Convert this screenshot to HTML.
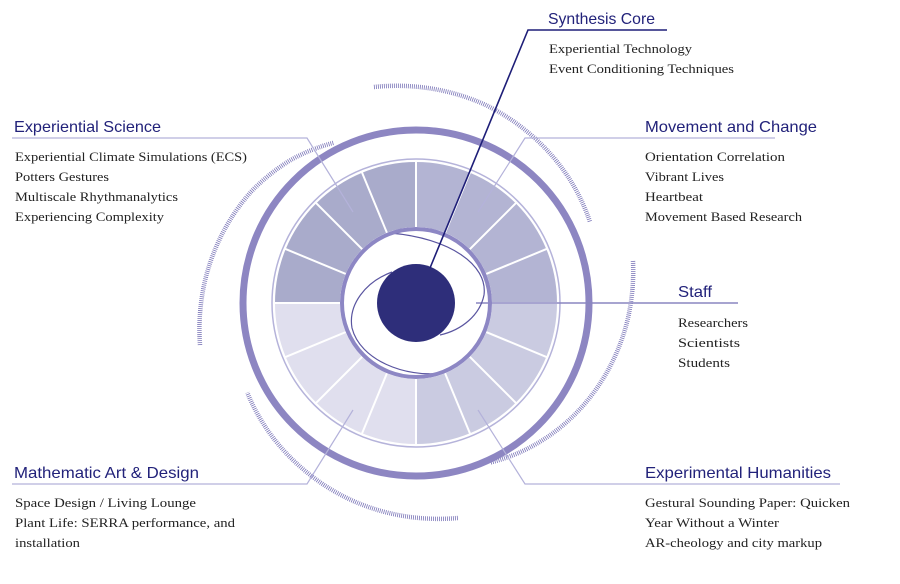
<!DOCTYPE html>
<html><head><meta charset="utf-8"><style>
html,body{margin:0;padding:0;background:#fff;}
svg{display:block;}
.h{font-family:"Liberation Sans",sans-serif;font-size:16px;fill:#22227a;}
.b{font-family:"Liberation Serif",serif;font-size:13px;fill:#222;}
</style></head><body>
<svg width="900" height="584" viewBox="0 0 900 584" xmlns="http://www.w3.org/2000/svg">
<!-- hatched spirals -->
<g fill="none" stroke="#7b76b8" stroke-width="4.5" stroke-dasharray="0.8 1.2">
<path d="M374,87 A217 217 0 0 1 431,88.5 A212 212 0 0 1 484.4,104.4 A207 207 0 0 1 530,134 A201 201 0 0 1 565.5,173 A195 195 0 0 1 590,222"/>
<path d="M633,261 A216 216 0 0 1 627.2,321.5 A207 207 0 0 1 606.8,372.4 A198 198 0 0 1 574.9,414.4 A189 189 0 0 1 535,444.7 A180 180 0 0 1 490.4,462.5"/>
<path d="M457.8,518 A216 216 0 0 1 401.1,515.6 A210 210 0 0 1 348.5,498.8 A204 204 0 0 1 303.6,469.6 A198 198 0 0 1 270.4,434.1 A193 193 0 0 1 247.3,392.6"/>
<path d="M200,345 A216 216 0 0 1 203.4,288.1 A209 209 0 0 1 221.2,235.9 A202 202 0 0 1 251,191.8 A194 194 0 0 1 291.4,159.6 A185 185 0 0 1 334.3,142.6"/>
</g>
<!-- outer ring -->
<circle cx="416" cy="303" r="173" fill="none" stroke="#8d86c2" stroke-width="7"/>
<circle cx="416" cy="303" r="144" fill="none" stroke="#b5b3da" stroke-width="1.5"/>
<!-- segments -->
<path d="M275,303 A141 141 0 0 1 416,162 L416,227 A76 76 0 0 0 340,303 Z" fill="#a9abcb"/>
<path d="M416,162 A141 141 0 0 1 557,303 L492,303 A76 76 0 0 0 416,227 Z" fill="#b3b4d3"/>
<path d="M557,303 A141 141 0 0 1 416,444 L416,379 A76 76 0 0 0 492,303 Z" fill="#cacbe1"/>
<path d="M416,444 A141 141 0 0 1 275,303 L340,303 A76 76 0 0 0 416,379 Z" fill="#e0dfee"/>
<g stroke="#fff" stroke-width="2">
<line x1="558" y1="303" x2="274" y2="303"/>
<line x1="547.2" y1="357.3" x2="284.8" y2="248.7"/>
<line x1="516.4" y1="403.4" x2="315.6" y2="202.6"/>
<line x1="470.3" y1="434.2" x2="361.7" y2="171.8"/>
<line x1="416" y1="445" x2="416" y2="161"/>
<line x1="361.7" y1="434.2" x2="470.3" y2="171.8"/>
<line x1="315.6" y1="403.4" x2="516.4" y2="202.6"/>
<line x1="284.8" y1="357.3" x2="547.2" y2="248.7"/>
</g>
<circle cx="416" cy="303" r="76" fill="#fff"/>
<!-- connectors -->
<g fill="none" stroke="#b4b2da" stroke-width="1.2">
<polyline points="12,138 307,138 353,212"/>
<polyline points="775,138 525,138 478,212"/>
<polyline points="12,484 307,484 353,410"/>
<polyline points="840,484 525,484 478,410"/>
</g>
<line x1="476" y1="303" x2="738" y2="303" stroke="#8a85c0" stroke-width="1.5"/>
<!-- inner swirl -->
<g fill="none" stroke="#5a55a0" stroke-width="1.2">
<path d="M390,233 C450,238 488,265 484,295 C480,315 462,330 440,335"/>
<path d="M392,272 C365,282 348,305 352,328 C360,360 405,378 443,373"/>
</g>
<circle cx="416" cy="303" r="74" fill="none" stroke="#8d87c4" stroke-width="4"/>
<circle cx="416" cy="303" r="39" fill="#2e2e7a"/>
<polyline points="430,268 528,30 667,30" fill="none" stroke="#1e1e78" stroke-width="1.6"/>
<!-- text -->
<text class="h" x="548" y="24" textLength="107" lengthAdjust="spacingAndGlyphs">Synthesis Core</text>
<text class="b" x="549" y="53" textLength="143" lengthAdjust="spacingAndGlyphs">Experiential Technology</text>
<text class="b" x="549" y="73" textLength="185" lengthAdjust="spacingAndGlyphs">Event Conditioning Techniques</text>

<text class="h" x="14" y="132" textLength="147" lengthAdjust="spacingAndGlyphs">Experiential Science</text>
<text class="b" x="15" y="161" textLength="232" lengthAdjust="spacingAndGlyphs">Experiential Climate Simulations (ECS)</text>
<text class="b" x="15" y="181" textLength="94" lengthAdjust="spacingAndGlyphs">Potters Gestures</text>
<text class="b" x="15" y="201" textLength="163" lengthAdjust="spacingAndGlyphs">Multiscale Rhythmanalytics</text>
<text class="b" x="15" y="221" textLength="149" lengthAdjust="spacingAndGlyphs">Experiencing Complexity</text>

<text class="h" x="645" y="132" textLength="172" lengthAdjust="spacingAndGlyphs">Movement and Change</text>
<text class="b" x="645" y="161" textLength="140" lengthAdjust="spacingAndGlyphs">Orientation Correlation</text>
<text class="b" x="645" y="181" textLength="79" lengthAdjust="spacingAndGlyphs">Vibrant Lives</text>
<text class="b" x="645" y="201" textLength="58" lengthAdjust="spacingAndGlyphs">Heartbeat</text>
<text class="b" x="645" y="221" textLength="157" lengthAdjust="spacingAndGlyphs">Movement Based Research</text>

<text class="h" x="678" y="297" textLength="34" lengthAdjust="spacingAndGlyphs">Staff</text>
<text class="b" x="678" y="327" textLength="70" lengthAdjust="spacingAndGlyphs">Researchers</text>
<text class="b" x="678" y="347" textLength="62" lengthAdjust="spacingAndGlyphs">Scientists</text>
<text class="b" x="678" y="367" textLength="52" lengthAdjust="spacingAndGlyphs">Students</text>

<text class="h" x="14" y="478" textLength="185" lengthAdjust="spacingAndGlyphs">Mathematic Art &amp; Design</text>
<text class="b" x="15" y="507" textLength="181" lengthAdjust="spacingAndGlyphs">Space Design / Living Lounge</text>
<text class="b" x="15" y="527" textLength="220" lengthAdjust="spacingAndGlyphs">Plant Life: SERRA performance, and</text>
<text class="b" x="15" y="547" textLength="65" lengthAdjust="spacingAndGlyphs">installation</text>

<text class="h" x="645" y="478" textLength="186" lengthAdjust="spacingAndGlyphs">Experimental Humanities</text>
<text class="b" x="645" y="507" textLength="205" lengthAdjust="spacingAndGlyphs">Gestural Sounding Paper: Quicken</text>
<text class="b" x="645" y="527" textLength="134" lengthAdjust="spacingAndGlyphs">Year Without a Winter</text>
<text class="b" x="645" y="547" textLength="177" lengthAdjust="spacingAndGlyphs">AR-cheology and city markup</text>
</svg>
</body></html>
